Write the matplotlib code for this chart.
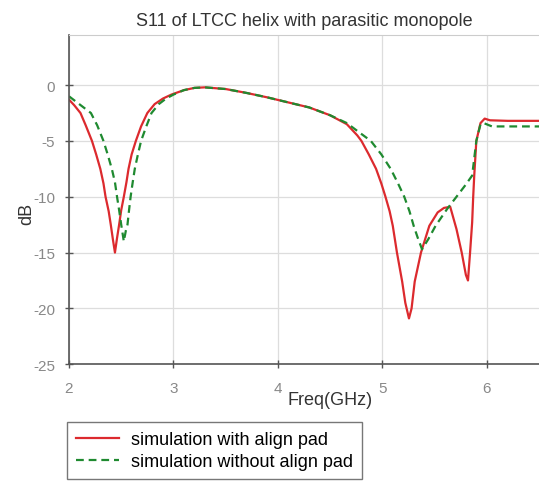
import matplotlib
matplotlib.use("Agg")
import matplotlib.pyplot as plt

plt.rcParams.update({
    "font.family": ["Liberation Sans", "DejaVu Sans"],
    "axes.unicode_minus": False,
})

# S11 (dB) versus frequency (GHz)
freq_pad = [2.00, 2.05, 2.11, 2.16, 2.22, 2.26, 2.30, 2.33, 2.35, 2.38,
            2.40, 2.42, 2.44, 2.46, 2.48, 2.50, 2.525, 2.55, 2.57, 2.60,
            2.64, 2.69, 2.75, 2.82, 2.90, 2.98, 3.10, 3.20, 3.30, 3.50,
            3.70, 3.90, 4.10, 4.30, 4.50, 4.66, 4.76, 4.80, 4.87, 4.94,
            4.99, 5.03, 5.07, 5.10, 5.14, 5.19, 5.22, 5.255, 5.28, 5.31,
            5.37, 5.45, 5.53, 5.59, 5.65, 5.71, 5.76, 5.80, 5.82, 5.84,
            5.86, 5.87, 5.88, 5.90, 5.94, 5.98, 6.03, 6.20, 6.50]
s11_pad = [-1.3, -1.8, -2.5, -3.6, -5.0, -6.2, -7.5, -8.8, -10.0, -11.3,
           -12.5, -13.8, -15.0, -13.7, -12.5, -11.2, -10.0, -8.7, -7.5, -6.2,
           -5.0, -3.7, -2.5, -1.7, -1.2, -0.85, -0.45, -0.25, -0.2, -0.35,
           -0.7, -1.1, -1.55, -2.0, -2.7, -3.5, -4.5, -5.0, -6.2, -7.5,
           -8.8, -10.0, -11.3, -12.6, -15.0, -17.6, -19.5, -20.9, -20.0, -17.6,
           -15.0, -12.6, -11.4, -11.0, -10.9, -12.9, -15.0, -17.0, -17.5, -15.0,
           -12.3, -10.0, -8.1, -5.0, -3.4, -3.0, -3.15, -3.2, -3.2]

freq_nopad = [2.00, 2.07, 2.14, 2.21, 2.27, 2.33, 2.37, 2.41, 2.44, 2.46,
              2.48, 2.50, 2.525, 2.545, 2.56, 2.575, 2.59, 2.61, 2.63, 2.66,
              2.69, 2.74, 2.79, 2.86, 2.93, 3.00, 3.10, 3.20, 3.30, 3.50,
              3.70, 3.90, 4.10, 4.30, 4.50, 4.66, 4.76, 4.89, 4.99, 5.08,
              5.15, 5.21, 5.26, 5.30, 5.34, 5.38, 5.44, 5.51, 5.62, 5.71,
              5.80, 5.86, 5.90, 5.94, 5.97, 6.05, 6.20, 6.50]
s11_nopad = [-1.0, -1.5, -2.0, -2.5, -3.6, -5.0, -6.2, -7.5, -8.7, -10.0,
             -11.2, -12.5, -14.0, -13.0, -12.5, -11.2, -10.0, -8.7, -7.5, -6.2,
             -5.0, -3.7, -2.5, -1.7, -1.2, -0.85, -0.45, -0.25, -0.2, -0.35,
             -0.7, -1.1, -1.55, -2.0, -2.7, -3.4, -4.1, -5.0, -6.2, -7.5,
             -8.8, -10.0, -11.3, -12.6, -13.7, -14.7, -13.8, -12.6, -11.1, -10.0,
             -8.9, -8.1, -5.0, -3.5, -3.4, -3.7, -3.7, -3.7]

x_ticks = [2, 3, 4, 5, 6]
y_ticks = [0, -5, -10, -15, -20, -25]

fig = plt.figure(figsize=(5.39, 4.85), dpi=100)
ax = fig.add_axes([0.128, 0.247, 0.872, 0.679])

ax.plot(freq_pad, s11_pad, color="#dc2a2e", linewidth=1.6,
        label="simulation with align pad")
ax.plot(freq_nopad, s11_nopad, color="#1f8a30", linewidth=1.6,
        linestyle=(0, (3.5, 2.2)), label="simulation without align pad")

ax.set_xlim(2, 6.5)
ax.set_ylim(-25, 4.5)
ax.set_xticks(x_ticks)
ax.set_yticks(y_ticks)
ax.grid(color="#dddddd", linewidth=0.9)
ax.set_axisbelow(True)

for side in ("left", "bottom"):
    ax.spines[side].set_color("#555555")
    ax.spines[side].set_linewidth(1.2)
ax.spines["right"].set_visible(False)
ax.spines["top"].set_color("#cccccc")
ax.tick_params(direction="inout", length=6, width=1, color="#555555",
               labelcolor="#888888", labelsize=11)
ax.tick_params(axis="x", pad=9)
ax.tick_params(axis="y", pad=7)

ax.set_title("S11 of LTCC helix with parasitic monopole", fontsize=13,
             color="#333333", pad=7)
ax.set_xlabel("Freq(GHz)", fontsize=13, color="#333333")
ax.xaxis.set_label_coords(0.555, -0.08)
ax.set_ylabel("dB", fontsize=13, color="#333333")
ax.yaxis.set_label_coords(-0.072, 0.46)

fig.legend(loc="upper left", bbox_to_anchor=(0.124, 0.128), fontsize=13,
           frameon=True, fancybox=False, edgecolor="#555555",
           borderaxespad=0, handlelength=2.4, handletextpad=0.65,
           borderpad=0.5, labelspacing=0.3)

fig.savefig("out.png", dpi=100)
